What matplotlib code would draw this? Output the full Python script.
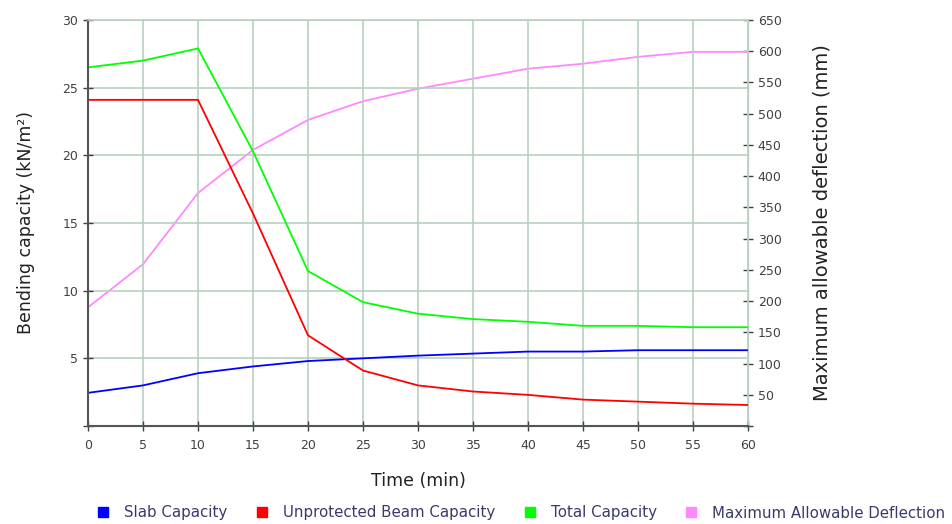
import matplotlib
matplotlib.use('Agg')
import matplotlib.pyplot as plt
from matplotlib.lines import Line2D

# time steps (min)
time = [0, 5, 10, 15, 20, 25, 30, 35, 40, 45, 50, 55, 60]

# bending capacities (kN/m2), left axis
slab = [2.45, 3.0, 3.9, 4.4, 4.8, 5.0, 5.2, 5.35, 5.5, 5.5, 5.6, 5.6, 5.6]
beam = [24.1, 24.1, 24.1, 15.7, 6.7, 4.1, 3.0, 2.55, 2.3, 1.95, 1.8, 1.65, 1.55]
total = [26.5, 27.0, 27.9, 20.3, 11.45, 9.15, 8.3, 7.9, 7.7, 7.4, 7.4, 7.3, 7.3]

# maximum allowable deflection (mm), right axis
deflection = [190, 259, 373, 442, 490, 520, 540, 556, 572, 580, 591, 599, 599]

labels = ['Slab Capacity', 'Unprotected Beam Capacity', 'Total Capacity',
          'Maximum Allowable Deflection']
colors = ['#0000ff', '#ff0000', '#00ff00', '#ff88ff']

grid_col = '#b7cfc0'
tick_col = '#404040'
plt.rcParams['font.family'] = ['DejaVu Sans']

fig = plt.figure(figsize=(9.52, 5.24), dpi=100)
ax = fig.add_axes([88/952, 1 - 426/524, 660/952, 406/524])
ax2 = ax.twinx()

ax.set_zorder(ax2.get_zorder() + 1)
ax.patch.set_visible(False)

ax2.plot(time, deflection, color=colors[3], lw=1.3)
ax.plot(time, slab, color=colors[0], lw=1.3)
ax.plot(time, beam, color=colors[1], lw=1.3)
ax.plot(time, total, color=colors[2], lw=1.3)

ax.set_xlim(0, 60)
ax.set_ylim(0, 30)
ax2.set_ylim(0, 650)

ax.set_xticks(range(0, 61, 5))
ax.set_yticks(range(0, 31, 5))
ax.set_yticklabels([''] + [str(v) for v in range(5, 31, 5)])
ax2.set_yticks(range(0, 651, 50))
ax2.set_yticklabels([''] + [str(v) for v in range(50, 651, 50)])

ax.grid(True, color=grid_col, lw=1.2)
ax.set_axisbelow(True)

for a in (ax, ax2):
    a.tick_params(direction='inout', length=7, width=1, color=tick_col,
                  labelcolor=tick_col, labelsize=9)
    for s in a.spines.values():
        s.set_color(grid_col)
ax.tick_params(axis='x', pad=6)
ax.spines['left'].set_color('#555555')
ax.spines['bottom'].set_color('#555555')
ax.spines['left'].set_linewidth(1.5)
ax.spines['bottom'].set_linewidth(1.5)
ax2.spines['right'].set_color(grid_col)
ax2.spines['top'].set_visible(False)
ax.spines['top'].set_color(grid_col)
ax.spines['top'].set_linewidth(1.2)

ax.set_xlabel('Time (min)', fontsize=12.5, color='#222222', labelpad=14)
ax.set_ylabel('Bending capacity (kN/m²)', fontsize=12.5, color='#222222', labelpad=20)
ax2.set_ylabel('Maximum allowable deflection (mm)', fontsize=14,
               color='#222222', labelpad=22)

handles = [Line2D([], [], ls='none', marker='s', markersize=7, color=c) for c in colors]
fig.legend(handles, labels, loc='center', bbox_to_anchor=(519/952, 1 - 513/524),
           ncol=4, frameon=False, fontsize=10.8, handletextpad=0.7,
           handlelength=1.4, columnspacing=1.6, labelcolor='#3a3a6a')

fig.savefig('out.png', dpi=100)
